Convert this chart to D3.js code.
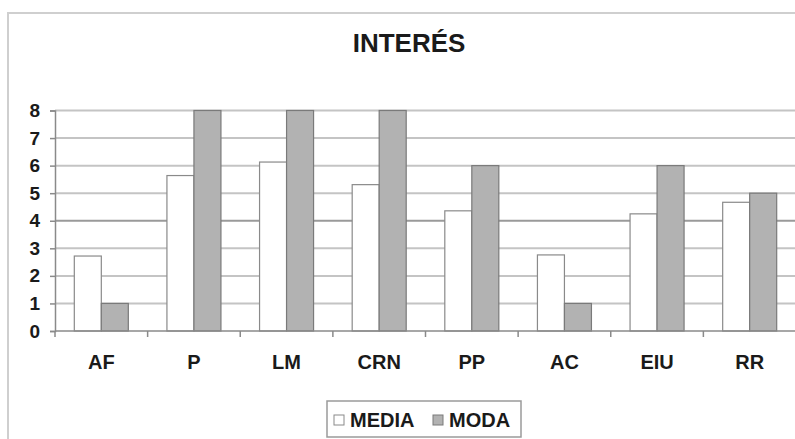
<!DOCTYPE html>
<html>
<head>
<meta charset="utf-8">
<script src="https://cdn.jsdelivr.net/npm/d3@7"></script>
<style>
  body { margin: 0; background: #fff; }
  svg text { font-family: "Liberation Sans", Arial, sans-serif; font-weight: bold; fill: #1a1a1a; }
</style>
</head>
<body>
<div id="chart"></div>
<script>
// data
let categories = ["AF", "P", "LM", "CRN", "PP", "AC", "EIU", "RR"];
let series = ["MEDIA", "MODA"];
let media = [2.72, 5.64, 6.13, 5.31, 4.36, 2.76, 4.25, 4.67];
let moda = [1, 8, 8, 8, 6, 1, 6, 5];
let yTicks = [0, 1, 2, 3, 4, 5, 6, 7, 8];
let titleText = "INTERÉS";

let width = 795, height = 439;
let plotLeft = 55, plotRight = 796, plotTop = 110.5, plotBottom = 331;

let fills = { "MEDIA": "#ffffff", "MODA": "#b2b2b2" };
let strokes = { "MEDIA": "#8a8a8a", "MODA": "#7a7a7a" };

let svg = d3.select("#chart").append("svg")
  .attr("width", width).attr("height", height);

// outer frame (left + top edges visible)
svg.append("path")
  .attr("d", "M8,439 L8,13 L795,13")
  .attr("fill", "none")
  .attr("stroke", "#cfcfcf")
  .attr("stroke-width", 2);

svg.append("text")
  .attr("x", 409).attr("y", 52)
  .attr("text-anchor", "middle")
  .style("font-size", "26px")
  .text(titleText);

let x0 = d3.scaleBand().domain(categories).range([plotLeft, plotRight]).padding(0);
let x1 = d3.scaleBand().domain(series).range([0, x0.bandwidth()])
  .paddingInner(0).paddingOuter(0.715);
let y = d3.scaleLinear().domain([0, 8]).range([plotBottom, plotTop]);

// gridlines
svg.append("g").selectAll("line")
  .data(yTicks.filter(d => d > 0))
  .enter().append("line")
  .attr("x1", plotLeft).attr("x2", plotRight)
  .attr("y1", d => y(d)).attr("y2", d => y(d))
  .attr("stroke", d => d === 4 ? "#9a9a9a" : "#c4c4c4")
  .attr("stroke-width", 2);

// bars
let rows = categories.map((c, i) => ({ cat: c, MEDIA: media[i], MODA: moda[i] }));
svg.append("g").selectAll("g")
  .data(rows)
  .enter().append("g")
  .attr("transform", d => "translate(" + x0(d.cat) + ",0)")
  .selectAll("rect")
  .data(d => series.map(s => ({ s: s, v: d[s] })))
  .enter().append("rect")
  .attr("x", d => x1(d.s))
  .attr("width", x1.bandwidth())
  .attr("y", d => y(d.v))
  .attr("height", d => y(0) - y(d.v))
  .attr("fill", d => fills[d.s])
  .attr("stroke", d => strokes[d.s])
  .attr("stroke-width", 1.2);

// y axis
let yAxis = svg.append("g")
  .attr("transform", "translate(" + plotLeft + ",0)")
  .call(d3.axisLeft(y).tickValues(yTicks).tickSize(5).tickPadding(10).tickFormat(d3.format("d")));
yAxis.select(".domain").attr("stroke", "#8a8a8a").attr("stroke-width", 1.5);
yAxis.selectAll(".tick line").attr("stroke", "#8a8a8a").attr("stroke-width", 1.5);
yAxis.selectAll(".tick text")
  .style("font-size", "19px")
  .attr("fill", "#1a1a1a");

// x axis with ticks on category boundaries
let xAxis = svg.append("g")
  .attr("transform", "translate(0," + plotBottom + ")");
xAxis.append("line")
  .attr("x1", plotLeft).attr("x2", plotRight)
  .attr("stroke", "#8a8a8a").attr("stroke-width", 1.5);
xAxis.selectAll(".xtick")
  .data(categories.map(c => x0(c)).concat([plotRight]))
  .enter().append("line")
  .attr("class", "xtick")
  .attr("x1", d => d).attr("x2", d => d)
  .attr("y1", 0).attr("y2", 6)
  .attr("stroke", "#8a8a8a").attr("stroke-width", 1.5);
xAxis.selectAll(".xlabel")
  .data(categories)
  .enter().append("text")
  .attr("class", "xlabel")
  .attr("x", d => x0(d) + x0.bandwidth() / 2)
  .attr("y", 38)
  .attr("text-anchor", "middle")
  .style("font-size", "20px")
  .text(d => d);

// legend
let legend = svg.append("g");
legend.append("rect")
  .attr("x", 327).attr("y", 401)
  .attr("width", 194).attr("height", 36)
  .attr("fill", "#fff")
  .attr("stroke", "#9a9a9a").attr("stroke-width", 1.5);
let legendX = [334, 433];
series.forEach(function(s, i) {
  legend.append("rect")
    .attr("x", legendX[i]).attr("y", 415)
    .attr("width", 10).attr("height", 10)
    .attr("fill", fills[s])
    .attr("stroke", strokes[s]).attr("stroke-width", 1);
  legend.append("text")
    .attr("x", legendX[i] + 16).attr("y", 427)
    .style("font-size", "20px")
    .text(s);
});
</script>
</body>
</html>
